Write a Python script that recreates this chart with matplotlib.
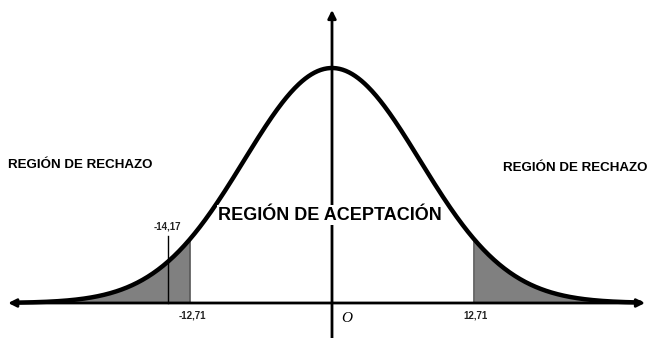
import numpy as np
import matplotlib.pyplot as plt

# values (z in standard units, labels as printed)
crit_z = [-1.61, 1.61]
crit_labels = ['-12,71', '12,71']
stat_z = -1.86
stat_label = '-14,17'
stat_top = 0.285
z = np.linspace(-3.6, 3.5, 600)
dens = np.exp(-z ** 2 / 2)

fig = plt.figure(figsize=(6.49, 3.38), dpi=100)
ax = fig.add_axes([0, 0, 1, 1])
ax.set_xlim(-332 / 88, 317 / 88)
ax.set_ylim(-35 / 235, 303 / 235)
ax.axis('off')

# shaded rejection tails
left = z <= crit_z[0]
right = z >= crit_z[1]
ax.fill_between(z[left], 0, dens[left], color='#808080', lw=0)
ax.fill_between(z[right], 0, dens[right], color='#808080', lw=0)
for c in crit_z:
    ax.plot([c, c], [0, np.exp(-c ** 2 / 2)], color='#555555', lw=1.2)

# observed statistic
ax.plot([stat_z, stat_z], [0, stat_top], color='black', lw=1)
ax.text(stat_z - 0.01, stat_top + 0.02, stat_label, ha='center', va='bottom',
        fontsize=7, fontweight='bold', family='Liberation Sans', color='#222222')

# axes with arrows
ax.annotate('', xy=(3.557, 0), xytext=(-3.68, 0),
            arrowprops=dict(arrowstyle='<|-|>', lw=2, color='black',
                            mutation_scale=12, shrinkA=0, shrinkB=0))
ax.annotate('', xy=(0, 1.247), xytext=(0, -0.2),
            arrowprops=dict(arrowstyle='-|>', lw=2, color='black',
                            mutation_scale=12, shrinkA=0, shrinkB=0))

# the bell curve
ax.plot(z, dens, color='black', lw=3.2, solid_capstyle='round')

for c, lab in zip(crit_z, crit_labels):
    ax.text(c + 0.02, -0.055, lab, ha='center', va='center', fontsize=7,
            fontweight='bold', family='Liberation Sans', color='#222222')

ax.text(0.17, -0.064, 'O', ha='center', va='center', fontsize=11,
        style='italic', family='Liberation Serif')

ax.text(-3.68, 0.587, 'REGIÓN DE RECHAZO', ha='left', va='center', fontsize=9.6,
        fontweight='bold', family='Liberation Sans', color='black')
ax.text(3.58, 0.574, 'REGIÓN DE RECHAZO', ha='right', va='center', fontsize=9.6,
        fontweight='bold', family='Liberation Sans', color='black')
ax.text(-0.02, 0.374, 'REGIÓN DE ACEPTACIÓN', ha='center', va='center',
        fontsize=13, fontweight='bold', family='Liberation Sans', color='black',
        bbox=dict(facecolor='white', edgecolor='none', pad=1), zorder=5)

fig.savefig('out.png', dpi=100)
